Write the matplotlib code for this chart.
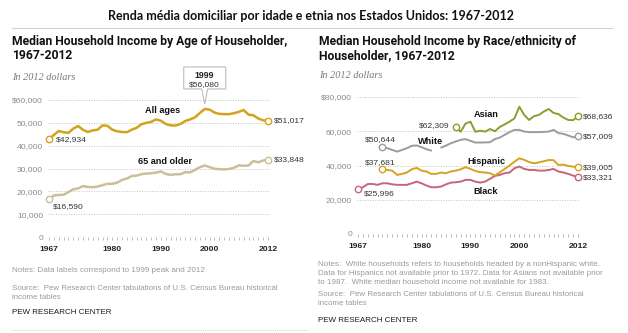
import matplotlib
matplotlib.use("Agg")
import matplotlib.pyplot as plt
import numpy as np
from matplotlib.patches import Polygon
from matplotlib.lines import Line2D

# ---------------- data ----------------
years = list(range(1967, 2013))
all_ages = [42934, 44700, 46400, 45900, 45600, 47500, 48600, 46900, 46000, 46700,
            47000, 48900, 48700, 47000, 46300, 46000, 45900, 47000, 47800, 49400,
            50000, 50400, 51500, 50900, 49500, 48900, 48800, 49500, 50800, 51500,
            52400, 54300, 56080, 55800, 54500, 53900, 53800, 53800, 54200, 54800,
            55600, 53600, 53300, 51900, 51100, 51017]
age65 = [16590, 18200, 18400, 18500, 19700, 20900, 21300, 22300, 21900, 21800,
         22100, 22700, 23300, 23300, 23800, 25000, 25600, 26700, 26900, 27500,
         27800, 27900, 28200, 28700, 27600, 27200, 27500, 27500, 28400, 28300,
         29400, 30600, 31300, 30600, 29900, 29700, 29600, 29800, 30300, 31400,
         31200, 31300, 33300, 32700, 33500, 33848]

black_years = list(range(1967, 2013))
black = [25996, 27300, 29200, 29200, 28700, 29600, 29600, 29000, 28700, 28700,
         28700, 29600, 30600, 29600, 28300, 27300, 27300, 27700, 29000, 30000,
         30200, 30600, 31600, 31600, 30600, 30000, 30600, 32200, 33900, 34500,
         35500, 35900, 38400, 39400, 38000, 37400, 37400, 37000, 37000, 37400,
         38000, 36500, 35900, 35100, 34100, 33321]
white_years = list(range(1972, 2013))
white = [50644, 50100, 49100, 48100, 49100, 50100, 51500, 51700, 50700, 49500,
         48700, None, 50500, 51600, 53000, 54000, 55000, 55400, 54400, 53400,
         53400, 53500, 53600, 55400, 56300, 57900, 59500, 60800, 60800, 59800,
         59500, 59500, 59500, 59600, 59800, 60800, 58900, 58500, 57500, 56500,
         57009]
hisp_years = list(range(1972, 2013))
hispanic = [37681, 37400, 37000, 34500, 35100, 35900, 37800, 38600, 37000, 36500,
            35100, 35100, 35900, 35500, 36500, 37000, 37800, 39000, 38000, 36800,
            36100, 35900, 35500, 34100, 36000, 38000, 40000, 42200, 44200, 43300,
            42000, 41300, 41800, 42500, 43200, 43100, 40300, 40500, 39800, 39300,
            39005]
asian_years = list(range(1987, 2013))
asian = [62309, 59700, 64500, 65600, 59700, 60300, 59800, 61300, 60000, 62500,
         64000, 65600, 67500, 74300, 69500, 66600, 68800, 69500, 71500, 73000,
         70700, 70000, 68000, 66600, 66500, 68636]

x_ticks = [1967, 1980, 1990, 2000, 2012]
left_yticks = [0, 10000, 20000, 30000, 40000, 50000, 60000]
left_ylabels = ['0', '10,000', '20,000', '30,000', '40,000', '50,000', '$60,000']
right_yticks = [0, 20000, 40000, 60000, 80000]
right_ylabels = ['0', '20,000', '40,000', '60,000', '$80,000']

title = "Renda média domiciliar por idade e etnia nos Estados Unidos: 1967-2012"
left_title = "Median Household Income by Age of Householder,\n1967-2012"
right_title = "Median Household Income by Race/ethnicity of\nHouseholder, 1967-2012"
unit = "In 2012 dollars"
left_notes = ["Notes: Data labels correspond to 1999 peak and 2012"]
right_notes = ["Notes:  White households refers to households headed by a nonHispanic white.",
               "Data for Hispanics not available prior to 1972. Data for Asians not available prior",
               "to 1987.  White median household income not available for 1983."]
source = ["Source:  Pew Research Center tabulations of U.S. Census Bureau historical",
          "income tables"]
credit = "PEW RESEARCH CENTER"

# ---------------- style ----------------
C_ALL = '#D3A21E'
C_65 = '#CBBF9B'
C_ASIAN = '#8E9C2F'
C_WHITE = '#9C9C9C'
C_HISP = '#D4A320'
C_BLACK = '#C9647A'

SANS = 'Liberation Sans'
W, H = 628, 333
fig = plt.figure(figsize=(W / 100, H / 100), dpi=100)


def fx(x):
    return x / W


def fy(y):
    return 1 - y / H


def add_axes_px(x0, x1, ytop, ybot):
    return fig.add_axes([fx(x0), fy(ybot), (x1 - x0) / W, (ybot - ytop) / H])


def style(ax, xlim, ylim, yticks, ylabels):
    ax.set_xlim(*xlim)
    ax.set_ylim(*ylim)
    for s in ax.spines.values():
        s.set_visible(False)
    ax.patch.set_alpha(0)
    ax.set_yticks(yticks)
    ax.set_yticklabels(ylabels, fontfamily=SANS)
    ax.tick_params(axis='y', length=0, pad=3.2, labelsize=6.1, labelcolor='#8a8a8a')
    ax.set_xticks(x_ticks)
    ax.set_xticklabels([str(v) for v in x_ticks], fontfamily=SANS, fontweight='bold')
    ax.set_xticks(years, minor=True)
    ax.tick_params(axis='x', which='both', length=2.2, width=0.6, color='#b0b0b0',
                   pad=4.2, labelsize=6.1, labelcolor='#222222')
    for y in yticks[1:]:
        ax.axhline(y, color='#c4c4c4', lw=0.7, ls=(0, (1, 1.6)), zorder=0)
    ax.axhline(0, color='#b0b0b0', lw=0.8, zorder=0)


def series(ax, xs, ys, color, lw):
    arr = np.array([np.nan if v is None else v for v in ys], dtype=float)
    ax.plot(xs, arr, color=color, lw=lw, solid_capstyle='round', solid_joinstyle='round',
            clip_on=False, zorder=3)


def endpoint(ax, x, y, color):
    ax.plot([x], [y], 'o', ms=4.6, mfc='white', mec=color, mew=1.0, clip_on=False, zorder=5)


def label(ax, x, y, text, dx, dy, ha='left', size=6.1):
    ax.annotate(text, xy=(x, y), xytext=(dx * 0.72, -dy * 0.72), textcoords='offset points',
                ha=ha, va='center', fontsize=size, color='#333333', fontfamily=SANS)


# ---------------- header ----------------
fig.text(fx(310.5), fy(15.5), title, ha='center', va='center', fontsize=9.0,
         fontweight='bold', fontfamily='Lato', color='#111111')
fig.add_artist(Line2D([fx(12), fx(613)], [fy(27.5), fy(27.5)], color='#d4d4d4', lw=0.8))

for x0, t, uy in [(12, left_title, 77), (319, right_title, 75)]:
    fig.text(fx(x0), fy(48.5), t, ha='left', va='center', fontsize=8.7, fontweight='bold',
             fontfamily='Roboto', color='#111111', linespacing=1.05)
    fig.text(fx(x0), fy(uy), unit, ha='left', va='center', fontsize=7.4, style='italic',
             fontfamily='Liberation Serif', color='#7a7a7a')

# ---------------- left chart ----------------
ppy_l = 219 / 45
axL = add_axes_px(49 - 0.3 * ppy_l, 268 + 0.4 * ppy_l, 100, 237)
style(axL, (1966.7, 2012.4), (0, 60000), left_yticks, left_ylabels)
series(axL, years, age65, C_65, 1.8)
series(axL, years, all_ages, C_ALL, 1.8)
endpoint(axL, years[0], all_ages[0], C_ALL)
endpoint(axL, years[-1], all_ages[-1], C_ALL)
endpoint(axL, years[0], age65[0], C_65)
endpoint(axL, years[-1], age65[-1], C_65)
label(axL, years[0], all_ages[0], f"${all_ages[0]:,}", 7, 1)
label(axL, years[0], age65[0], f"${age65[0]:,}", 4, 7)
label(axL, years[-1], all_ages[-1], f"${all_ages[-1]:,}", 6, 0)
label(axL, years[-1], age65[-1], f"${age65[-1]:,}", 6, 0)
axL.text(1990.4, 55600, "All ages", ha='center', va='center', fontsize=6.6,
         fontweight='bold', fontfamily=SANS, color='#111111')
axL.text(1990.8, 32850, "65 and older", ha='center', va='center', fontsize=6.6,
         fontweight='bold', fontfamily=SANS, color='#111111')

# 1999 peak callout
pk = years.index(1999)
px, py = axL.transData.transform((years[pk], all_ages[pk]))
tipx, tipy = px, H - py - 5
bx0, bx1 = tipx - 21, tipx + 21
bB, bT = tipy - 15, tipy - 37
verts = [(bx0, bT), (bx1, bT), (bx1, bB), (tipx + 3, bB), (tipx, tipy), (tipx - 3, bB), (bx0, bB)]
fig.add_artist(Polygon([(fx(a), fy(b)) for a, b in verts], closed=True, facecolor='white',
                       edgecolor='#bdbdbd', lw=0.8, transform=fig.transFigure))
fig.text(fx(tipx), fy(bT + 9), str(years[pk]), ha='center', va='center', fontsize=6.3,
         fontweight='bold', fontfamily=SANS, color='#222222')
fig.text(fx(tipx), fy(bT + 18), f"${all_ages[pk]:,}", ha='center', va='center', fontsize=6.1,
         fontfamily=SANS, color='#333333')

# ---------------- right chart ----------------
ppy_r = 220 / 45
axR = add_axes_px(358 - 0.3 * ppy_r, 578 + 0.4 * ppy_r, 97, 234)
style(axR, (1966.7, 2012.4), (0, 80000), right_yticks, right_ylabels)
series(axR, black_years, black, C_BLACK, 1.4)
series(axR, hisp_years, hispanic, C_HISP, 1.4)
series(axR, white_years, white, C_WHITE, 1.4)
series(axR, asian_years, asian, C_ASIAN, 1.4)
for xs, ys, c in [(black_years, black, C_BLACK), (hisp_years, hispanic, C_HISP),
                  (white_years, white, C_WHITE), (asian_years, asian, C_ASIAN)]:
    endpoint(axR, xs[0], ys[0], c)
    endpoint(axR, xs[-1], ys[-1], c)
    label(axR, xs[-1], ys[-1], f"${ys[-1]:,}", 5, 0.5)
label(axR, asian_years[0], asian[0], f"${asian[0]:,}", -6, -2, ha='right')
label(axR, white_years[0], white[0], f"${white[0]:,}", -2, -8, ha='center')
label(axR, hisp_years[0], hispanic[0], f"${hispanic[0]:,}", -2, -7, ha='center')
label(axR, black_years[0], black[0], f"${black[0]:,}", 6, 4)
for t, x, y in [("Asian", 1993.2, 70070), ("White", 1981.9, 54300),
                ("Hispanic", 1993.2, 42600), ("Black", 1993.2, 25100)]:
    axR.text(x, y, t, ha='center', va='center', fontsize=6.6, fontweight='bold',
             fontfamily=SANS, color='#111111')

# ---------------- footers ----------------
NOTE_C = '#9a9a9a'
NS = 5.8
for i, line in enumerate(left_notes):
    fig.text(fx(12), fy(271 + 9.5 * i), line, ha='left', va='center', fontsize=NS,
             fontfamily=SANS, color=NOTE_C)
for i, line in enumerate(source):
    fig.text(fx(12), fy(288 + 9.8 * i), line, ha='left', va='center', fontsize=NS - 0.1,
             fontfamily=SANS, color=NOTE_C)
fig.text(fx(12), fy(313), credit, ha='left', va='center', fontsize=5.8,
         fontfamily=SANS, color='#1a1a1a')
fig.add_artist(Line2D([fx(12), fx(308)], [fy(329.5), fy(329.5)], color='#d0d0d0', lw=0.7,
                      ls=(0, (1, 1))))

for i, line in enumerate(right_notes):
    fig.text(fx(318), fy(264 + 9.5 * i), line, ha='left', va='center', fontsize=NS,
             fontfamily=SANS, color=NOTE_C)
for i, line in enumerate(source):
    fig.text(fx(318), fy(294 + 9.8 * i), line, ha='left', va='center', fontsize=NS - 0.1,
             fontfamily=SANS, color=NOTE_C)
fig.text(fx(318), fy(320), credit, ha='left', va='center', fontsize=5.8,
         fontfamily=SANS, color='#1a1a1a')

fig.savefig('out.png', dpi=100, facecolor='white')
